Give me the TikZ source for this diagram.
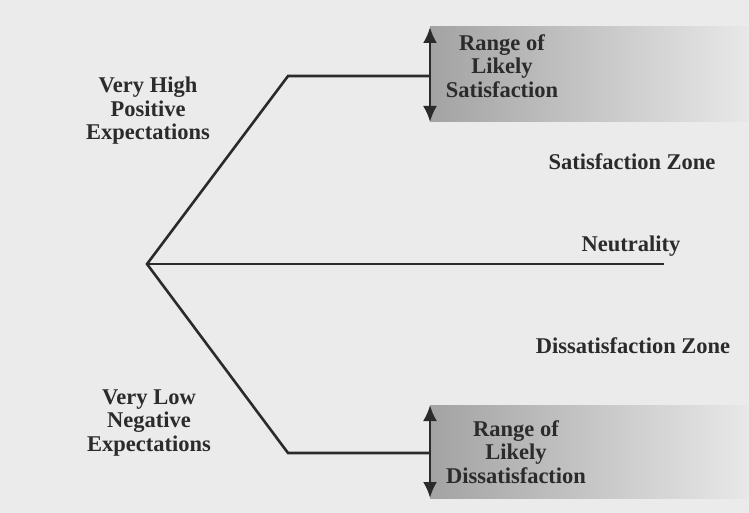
\documentclass[tikz,border=0pt]{standalone}
\usepackage{fontspec}
\setmainfont{Liberation Serif}
\usepackage{tikz}
\usetikzlibrary{arrows.meta}
\definecolor{paper}{HTML}{EBEBEB}
\definecolor{ink}{HTML}{2B2B2B}
\definecolor{bandleft}{HTML}{A3A3A3}
\definecolor{bandright}{HTML}{E8E8E8}
\tikzstyle{lbl}=[text=ink, align=center, font=\bfseries\fontsize{22.5}{23.5}\selectfont, inner sep=0pt]

\begin{document}
\begin{tikzpicture}[x=1pt,y=-1pt,
	track/.style={draw=ink, line width=2.6pt, line join=miter},
	spread/.style={draw=ink, line width=2.6pt, {Latex[length=16pt,width=14pt]}-{Latex[length=16pt,width=14pt]}}]
		\fill[paper] (0,0) rectangle (749,513);
		\useasboundingbox (0,0) rectangle (749,513);
		% shaded bands
		\shade[left color=bandleft, right color=bandright] (430,27) rectangle (749,122);
		\shade[left color=bandleft, right color=bandright] (430,405) rectangle (749,498);
		% the fork
		\coordinate (vertex) at (147,264);
		\coordinate (hicorner) at (288,76);
		\coordinate (hiend) at (430,76);
		\coordinate (locorner) at (288,453);
		\coordinate (loend) at (430,453);
		\coordinate (neutend) at (664,264);
		\coordinate (sattop) at (430,27);
		\coordinate (satbot) at (430,122);
		\coordinate (distop) at (430,405);
		\coordinate (disbot) at (430,498);
		\draw[track] (hiend) -- (hicorner) -- (vertex) -- (locorner) -- (loend);
		\draw[track] (vertex) -- (neutend);
		\draw[spread] (sattop) -- (satbot);
		\draw[spread] (distop) -- (disbot);
		% labels
		\node[lbl] (high) at (148,111) {Very High\\Positive\\Expectations};
		\node[lbl] (low) at (149,423) {Very Low\\Negative\\Expectations};
		\node[lbl] (satrange) at (502,66) {Range of\\Likely\\Satisfaction};
		\node[lbl] (disrange) at (516,452) {Range of\\Likely\\Dissatisfaction};
		\node[lbl] (satzone) at (632,162) {Satisfaction Zone};
		\node[lbl] (neutral) at (631,246) {Neutrality};
		\node[lbl] (diszone) at (633,346) {Dissatisfaction Zone};
	\end{tikzpicture}
\end{document}
